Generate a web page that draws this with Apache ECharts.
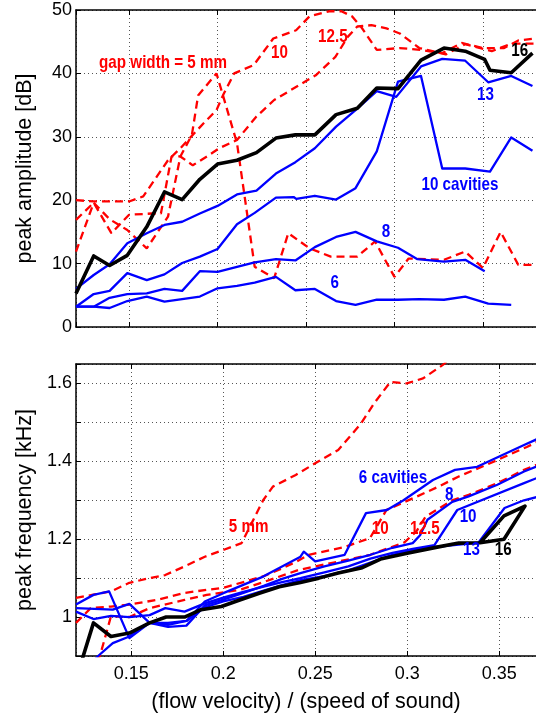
<!DOCTYPE html>
<html>
<head>
<meta charset="utf-8">
<script src="https://cdn.jsdelivr.net/npm/echarts@6/dist/echarts.min.js"></script>
<style>
  html, body { margin: 0; padding: 0; background: #fff; }
  #chart { width: 536px; height: 717px; }
</style>
</head>
<body>
<div id="chart"></div>
<script>
// ---- peak amplitude [dB] vs. normalised flow velocity ----
const ampCav16 = [[0.120,5.3],[0.130,11.2],[0.139,9.7],[0.149,11.3],[0.160,15.8],[0.170,21.3],[0.180,20.1],[0.190,23.3],[0.200,25.7],[0.211,26.3],[0.222,27.5],[0.233,29.8],[0.244,30.3],[0.255,30.3],[0.267,33.5],[0.279,34.5],[0.290,37.7],[0.302,37.6],[0.315,42.1],[0.328,44.0],[0.340,43.5],[0.351,42.2],[0.354,40.5],[0.366,40.1],[0.378,43.2]];
const ampCav13 = [[0.120,6.0],[0.130,8.2],[0.139,9.9],[0.149,13.2],[0.160,14.8],[0.170,16.1],[0.180,16.6],[0.190,17.9],[0.200,19.1],[0.211,20.9],[0.222,21.5],[0.233,24.2],[0.244,26.0],[0.255,28.2],[0.267,31.6],[0.278,34.2],[0.290,37.2],[0.301,36.3],[0.315,41.1],[0.327,42.3],[0.340,42.0],[0.353,38.6],[0.366,39.6],[0.378,38.0]];
const ampCav10 = [[0.120,3.2],[0.130,5.2],[0.139,5.7],[0.149,8.5],[0.160,7.4],[0.170,8.3],[0.180,10.1],[0.190,11.1],[0.200,12.3],[0.211,16.2],[0.221,18.0],[0.233,20.4],[0.243,20.5],[0.2445,20.2],[0.255,20.7],[0.267,20.1],[0.278,21.9],[0.290,27.7],[0.302,38.7],[0.315,39.6],[0.327,25.0],[0.340,25.0],[0.354,24.5],[0.366,29.9],[0.378,27.8]];
const ampCav8 = [[0.120,3.2],[0.130,3.2],[0.139,4.6],[0.149,5.2],[0.160,5.3],[0.170,6.0],[0.180,5.7],[0.190,8.8],[0.200,8.7],[0.211,9.5],[0.221,10.2],[0.233,10.7],[0.244,10.5],[0.255,12.6],[0.267,14.2],[0.278,15.0],[0.290,13.5],[0.302,12.5],[0.313,10.7],[0.328,10.3],[0.340,10.6],[0.351,8.8]];
const ampCav6 = [[0.120,3.2],[0.130,3.2],[0.139,3.0],[0.149,4.1],[0.160,4.8],[0.170,4.0],[0.180,4.4],[0.190,4.8],[0.200,6.1],[0.211,6.5],[0.221,7.0],[0.233,7.9],[0.244,5.8],[0.255,6.0],[0.267,4.1],[0.278,3.5],[0.290,4.3],[0.302,4.3],[0.314,4.4],[0.328,4.3],[0.340,4.8],[0.353,3.7],[0.366,3.5]];
const ampGap5 = [[0.120,11.9],[0.130,19.6],[0.139,17.0],[0.149,15.3],[0.160,12.4],[0.172,17.4],[0.179,26.9],[0.1855,30.3],[0.189,36.5],[0.1994,40.0],[0.211,29.0],[0.221,9.5],[0.232,7.7],[0.240,14.8],[0.252,12.4],[0.264,11.1],[0.279,11.1],[0.289,13.5],[0.300,7.9],[0.308,10.8],[0.328,10.6],[0.340,11.9],[0.350,9.3],[0.360,15.0],[0.370,9.8],[0.380,9.8]];
const ampGap10 = [[0.120,20.0],[0.130,19.8],[0.150,19.8],[0.158,20.6],[0.172,26.3],[0.179,28.2],[0.192,32.1],[0.1994,34.2],[0.203,36.5],[0.2094,40.0],[0.2204,41.3],[0.2315,45.5],[0.2444,46.8],[0.252,49.0],[0.263,49.8],[0.270,49.8],[0.276,49.0],[0.281,47.4],[0.290,43.7],[0.303,44.0],[0.315,43.7],[0.327,43.2],[0.338,44.8],[0.350,44.0],[0.362,44.0],[0.370,45.2],[0.380,45.5]];
const ampGap125 = [[0.120,16.9],[0.130,19.6],[0.140,14.8],[0.150,17.7],[0.163,17.9],[0.168,17.9],[0.174,26.9],[0.179,26.9],[0.186,25.5],[0.194,26.9],[0.201,28.2],[0.211,29.5],[0.222,33.2],[0.232,35.8],[0.247,38.3],[0.2555,39.7],[0.2666,42.6],[0.2737,45.8],[0.279,47.4],[0.287,47.6],[0.2955,47.1],[0.303,46.3],[0.314,44.0],[0.329,43.0],[0.340,44.6],[0.355,43.5],[0.366,44.7],[0.380,44.7]];

// ---- peak frequency [kHz] vs. normalised flow velocity ----
const frqCav16 = [[0.120,0.84],[0.1295,0.985],[0.139,0.950],[0.149,0.959],[0.160,0.985],[0.169,1.000],[0.179,1.000],[0.188,1.019],[0.199,1.027],[0.209,1.044],[0.220,1.062],[0.2305,1.078],[0.242,1.089],[0.252,1.100],[0.2625,1.113],[0.275,1.126],[0.2855,1.149],[0.300,1.164],[0.3156,1.179],[0.328,1.190],[0.3396,1.191],[0.3526,1.200],[0.364,1.285],[0.3526,1.260],[0.3396,1.191]];
const frqCav13 = [[0.120,0.84],[0.132,0.90],[0.140,0.933],[0.149,0.950],[0.1596,0.985],[0.170,0.985],[0.180,0.990],[0.190,1.025],[0.200,1.040],[0.211,1.052],[0.222,1.068],[0.232,1.082],[0.242,1.095],[0.255,1.105],[0.268,1.120],[0.280,1.140],[0.292,1.160],[0.303,1.172],[0.3148,1.180],[0.3387,1.191],[0.3529,1.280],[0.3635,1.300],[0.372,1.31]];
const frqCav10 = [[0.120,1.014],[0.1295,0.995],[0.139,1.003],[0.149,1.000],[0.160,1.005],[0.1685,1.023],[0.179,1.014],[0.190,1.035],[0.200,1.050],[0.211,1.065],[0.222,1.078],[0.232,1.090],[0.242,1.100],[0.255,1.115],[0.268,1.130],[0.280,1.150],[0.292,1.165],[0.303,1.175],[0.3148,1.185],[0.3272,1.275],[0.3635,1.344],[0.372,1.36]];
const frqCav8 = [[0.120,1.023],[0.130,1.021],[0.140,1.019],[0.149,1.034],[0.160,0.985],[0.170,0.975],[0.180,0.978],[0.190,1.030],[0.200,1.045],[0.211,1.062],[0.222,1.080],[0.232,1.098],[0.242,1.113],[0.255,1.130],[0.268,1.145],[0.280,1.160],[0.292,1.178],[0.303,1.190],[0.307,1.210],[0.311,1.250],[0.3245,1.296],[0.3334,1.310],[0.349,1.340],[0.3635,1.374],[0.372,1.39]];
const frqCav6 = [[0.120,1.032],[0.1295,1.057],[0.138,1.066],[0.149,0.946],[0.160,0.985],[0.170,0.980],[0.180,0.990],[0.190,1.040],[0.2004,1.062],[0.2217,1.104],[0.242,1.155],[0.2438,1.168],[0.250,1.143],[0.266,1.160],[0.2776,1.267],[0.289,1.275],[0.298,1.300],[0.314,1.352],[0.326,1.378],[0.338,1.386],[0.3635,1.442],[0.372,1.46]];
const frqGap5 = [[0.120,1.049],[0.130,1.058],[0.139,1.066],[0.149,1.088],[0.160,1.100],[0.1685,1.108],[0.179,1.130],[0.190,1.155],[0.2004,1.173],[0.210,1.190],[0.2164,1.250],[0.2217,1.300],[0.227,1.335],[0.2394,1.365],[0.250,1.395],[0.2625,1.429],[0.2749,1.497],[0.282,1.549],[0.2909,1.604],[0.2997,1.600],[0.3086,1.613],[0.3192,1.647],[0.330,1.69]];
const frqGap10 = [[0.120,0.985],[0.128,1.023],[0.139,1.027],[0.149,1.032],[0.165,1.045],[0.179,1.062],[0.191,1.070],[0.200,1.075],[0.211,1.090],[0.222,1.105],[0.232,1.125],[0.240,1.143],[0.2465,1.160],[0.266,1.180],[0.2798,1.203],[0.2887,1.275],[0.305,1.309],[0.317,1.335],[0.328,1.361],[0.345,1.395],[0.365,1.437],[0.375,1.46]];
const frqGap125 = [[0.120,0.80],[0.133,0.90],[0.139,1.002],[0.149,1.000],[0.160,1.023],[0.179,1.044],[0.191,1.057],[0.209,1.070],[0.222,1.090],[0.241,1.121],[0.260,1.140],[0.280,1.160],[0.2985,1.192],[0.305,1.220],[0.310,1.258],[0.3245,1.300],[0.3334,1.314],[0.349,1.344],[0.3635,1.378],[0.375,1.40]];

// ---- in-plot annotations (text, x, y, colour), anchored in data coordinates ----
const ampNotes = [
  ['gap width = 5 mm', 0.1692, 41.7, 'red'],
  ['10', 0.2350, 43.3, 'red'],
  ['12.5', 0.2652, 45.7, 'red'],
  ['16', 0.3708, 43.6, 'black'],
  ['13', 0.3514, 36.7, 'blue'],
  ['10 cavities', 0.3370, 22.4, 'blue'],
  ['8', 0.2952, 15.1, 'blue'],
  ['6', 0.2663, 6.9, 'blue']
];
const frqNotes = [
  ['5 mm', 0.2138, 1.232, 'red'],
  ['6 cavities', 0.2923, 1.358, 'blue'],
  ['8', 0.3228, 1.314, 'blue'],
  ['10', 0.2853, 1.227, 'red'],
  ['12.5', 0.3096, 1.227, 'red'],
  ['10', 0.3331, 1.258, 'blue'],
  ['13', 0.3349, 1.172, 'blue'],
  ['16', 0.3522, 1.173, 'black']
];

const FONT = "'Liberation Sans', Arial, Helvetica, sans-serif";
const RED = '#ff0000', BLUE = '#0000ff', BLACK = '#000000';
const NOTE_COLOURS = { red: RED, blue: BLUE, black: BLACK };

const gridLine = { show: true, lineStyle: { color: '#555', width: 1, type: [1, 3] } };
const frame = { show: true, onZero: false, lineStyle: { color: BLACK, width: 1.5 } };
const inTick = { show: true, inside: true, length: 5, lineStyle: { color: BLACK, width: 1 } };
const tickText = { color: BLACK, fontSize: 18, fontFamily: FONT };
const titleText = { color: BLACK, fontSize: 21.5, fontFamily: FONT };

function curve(data, kind, gi) {
  const s = {
    type: 'line', data: data, xAxisIndex: gi * 2, yAxisIndex: gi,
    symbol: 'none', animation: false, clip: true, z: 3,
    lineStyle: { width: 2.3, color: BLUE, join: 'round' }
  };
  if (kind === 'gap') {
    s.lineStyle = { width: 2.3, color: RED, type: [8, 5] };
  } else if (kind === 'ref') {
    s.lineStyle = { width: 3.6, color: BLACK, join: 'round' };
    s.z = 4;
  }
  return s;
}

function xPair(gi, max, withLabels) {
  const main = {
    type: 'value', gridIndex: gi, min: 0.12, max: max, position: 'bottom',
    axisLine: frame, axisTick: inTick, splitLine: gridLine,
    axisLabel: Object.assign({
      show: withLabels, showMinLabel: false, showMaxLabel: false, margin: 9,
      formatter: v => String(Math.round(v * 100) / 100)
    }, tickText)
  };
  if (withLabels) {
    Object.assign(main, {
      name: '(flow velocity) / (speed of sound)', nameLocation: 'middle', nameGap: 35,
      nameTextStyle: titleText
    });
  }
  const mirror = {
    type: 'value', gridIndex: gi, min: 0.12, max: max, position: 'top',
    axisLine: frame, axisTick: inTick, splitLine: { show: false },
    axisLabel: { show: false }
  };
  return [main, mirror];
}

const chart = echarts.init(document.getElementById('chart'), null, { renderer: 'canvas' });
chart.setOption({
  animation: false,
  backgroundColor: '#fff',
  grid: [
    { left: 76, top: 10, width: 469, height: 317 },
    { left: 76, top: 364, width: 470, height: 292 }
  ],
  xAxis: [...xPair(0, 0.38, false), ...xPair(1, 0.37, true)],
  yAxis: [
    {
      type: 'value', gridIndex: 0, min: 0, max: 50, interval: 10,
      axisLine: frame, axisTick: inTick, splitLine: gridLine,
      axisLabel: Object.assign({ margin: 4 }, tickText),
      name: 'peak amplitude [dB]', nameLocation: 'middle', nameGap: 40, nameRotate: 90,
      nameTextStyle: titleText
    },
    {
      type: 'value', gridIndex: 1, min: 0.9, max: 1.65, interval: 0.1,
      axisLine: frame, axisTick: inTick, splitLine: gridLine,
      axisLabel: Object.assign({
        margin: 4,
        formatter: v => {
          const k = Math.round(v * 100);
          return (k % 20 === 0 && k >= 100 && k <= 160) ? String(k / 100) : '';
        }
      }, tickText),
      name: 'peak frequency [kHz]', nameLocation: 'middle', nameGap: 40, nameRotate: 90,
      nameTextStyle: titleText
    }
  ],
  series: [
    curve(ampGap5, 'gap', 0), curve(ampGap10, 'gap', 0), curve(ampGap125, 'gap', 0),
    curve(ampCav6, 'cav', 0), curve(ampCav8, 'cav', 0), curve(ampCav10, 'cav', 0), curve(ampCav13, 'cav', 0),
    curve(ampCav16, 'ref', 0),
    curve(frqGap5, 'gap', 1), curve(frqGap10, 'gap', 1), curve(frqGap125, 'gap', 1),
    curve(frqCav6, 'cav', 1), curve(frqCav8, 'cav', 1), curve(frqCav10, 'cav', 1), curve(frqCav13, 'cav', 1),
    curve(frqCav16, 'ref', 1)
  ]
});

// Condensed bold annotations: placed through the axes, squeezed horizontally.
function noteElements(list, gi) {
  return list.map(n => {
    const p = chart.convertToPixel({ xAxisIndex: gi * 2, yAxisIndex: gi }, [n[1], n[2]]);
    return {
      type: 'text', x: p[0], y: p[1], scaleX: 0.8, z: 100, silent: true,
      style: {
        text: n[0], fill: NOTE_COLOURS[n[3]], align: 'center', verticalAlign: 'middle',
        fontFamily: FONT, fontWeight: 'bold', fontSize: 19
      }
    };
  });
}
chart.setOption({ graphic: { elements: [...noteElements(ampNotes, 0), ...noteElements(frqNotes, 1)] } });
</script>
</body>
</html>
